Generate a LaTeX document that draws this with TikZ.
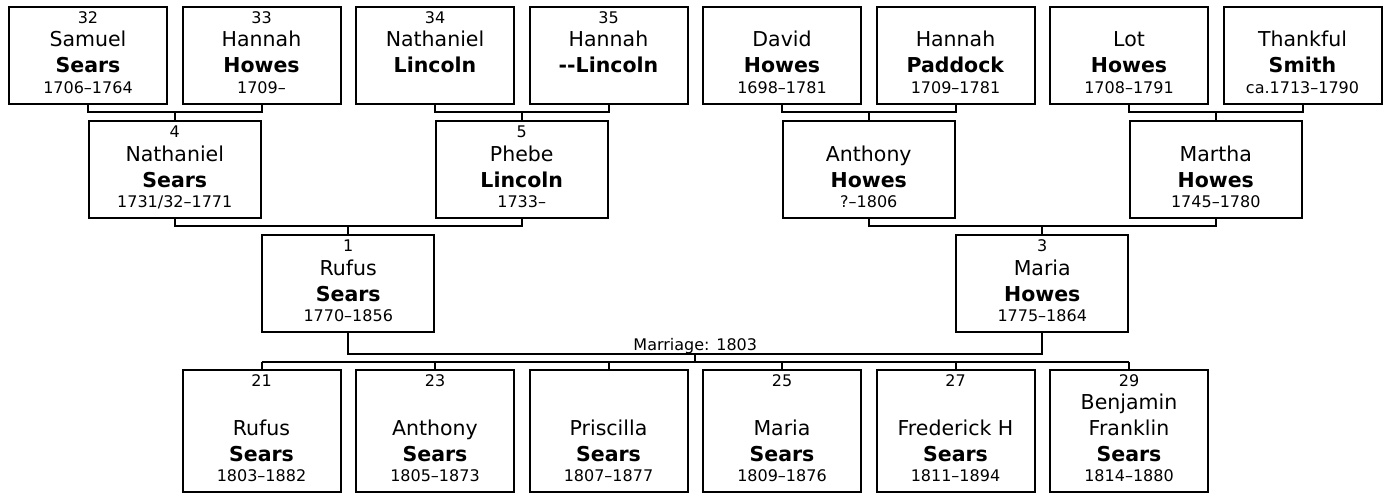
\documentclass[tikz,border=0pt]{standalone}
\usepackage{fontspec}
\setmainfont{DejaVu Sans}
\usetikzlibrary{positioning,calc}

\tikzset{
  person/.style={draw, line width=2pt, outer sep=0pt, inner sep=0pt,
    minimum width=158pt, minimum height=97pt},
  couple/.style={person, minimum width=172pt},
  kid/.style={person, minimum height=122pt},
  small/.style={anchor=base, inner sep=0pt, font=\fontsize{16}{19}\selectfont},
  big/.style={anchor=base, inner sep=0pt, font=\fontsize{20.5}{24}\selectfont},
  link/.style={line width=2pt}
}

% first name, last name and dates of a box
\newcommand{\who}[4]{%
  \node[big] (#1first) at ([yshift=57pt]#1.south) {#2};
  \node[big] (#1last) at ([yshift=31pt]#1.south) {\textbf{#3}};
  \node[small] (#1dates) at ([yshift=10.5pt]#1.south) {#4};
}

\begin{document}
\begin{tikzpicture}[x=1pt, y=-1pt]
\useasboundingbox (0,0) rectangle (1386,495);

% great-grandparents
\node[person] (p32) at (88,55.5) {};
\node[person] (p33) at (261.5,55.5) {};
\node[person] (p34) at (435,55.5) {};
\node[person] (p35) at (608.5,55.5) {};
\node[person] (david) at (782,55.5) {};
\node[person] (paddock) at (955.5,55.5) {};
\node[person] (lot) at (1129,55.5) {};
\node[person] (smith) at (1302.5,55.5) {};

\who{p32}{Samuel}{Sears}{1706--1764}
\who{p33}{Hannah}{Howes}{1709--}
\who{p34}{Nathaniel}{Lincoln}{}
\who{p35}{Hannah}{{-}{-}Lincoln}{}
\who{david}{David}{Howes}{1698--1781}
\who{paddock}{Hannah}{Paddock}{1709--1781}
\who{lot}{Lot}{Howes}{1708--1791}
\who{smith}{Thankful}{Smith}{ca.1713--1790}

% grandparents
\node[couple] (p4) at (174.75,169.5) {};
\node[couple] (p5) at (521.75,169.5) {};
\node[couple] (anthony) at (868.75,169.5) {};
\node[couple] (martha) at (1215.75,169.5) {};

\who{p4}{Nathaniel}{Sears}{1731/32--1771}
\who{p5}{Phebe}{Lincoln}{1733--}
\who{anthony}{Anthony}{Howes}{?--1806}
\who{martha}{Martha}{Howes}{1745--1780}

% parents
\node[couple] (p1) at (348.25,283.5) {};
\node[couple] (p3) at (1042.25,283.5) {};

\who{p1}{Rufus}{Sears}{1770--1856}
\who{p3}{Maria}{Howes}{1775--1864}

% children
\node[kid] (c21) at (261.5,431) {};
\node[kid] (c23) at (435,431) {};
\node[kid] (priscilla) at (608.5,431) {};
\node[kid] (c25) at (782,431) {};
\node[kid] (c27) at (955.5,431) {};
\node[kid] (c29) at (1129,431) {};

\who{c21}{Rufus}{Sears}{1803--1882}
\who{c23}{Anthony}{Sears}{1805--1873}
\who{priscilla}{Priscilla}{Sears}{1807--1877}
\who{c25}{Maria}{Sears}{1809--1876}
\who{c27}{Frederick H}{Sears}{1811--1894}
\who{c29}{Franklin}{Sears}{1814--1880}
\node[big] (c29extra) at ([yshift=83pt]c29.south) {Benjamin};

% numbers
\foreach \b/\n in {p32/32, p33/33, p34/34, p35/35, p4/4, p5/5, p1/1, p3/3,
                   c21/21, c23/23, c25/25, c27/27, c29/29}
  \node[small] (\b num) at ([yshift=-16.5pt]\b.north) {\n};

% lines between generations
\foreach \a/\b/\c in {p32/p33/p4, p34/p35/p5, david/paddock/anthony, lot/smith/martha,
                      p4/p5/p1, anthony/martha/p3} {
  \draw[link] (\a.south) -- ++(0,8) -| (\b.south);
  \draw[link] (\c.north) -- ++(0,-9);
}

% marriage
\draw[link] (p1.south) -- ++(0,22) -| (p3.south);
\coordinate (wed) at ($(p1.south)!0.5!(p3.south)+(0,22)$);
\node[small] (wedding) at ([yshift=4pt]wed) {Marriage: 1803};
\draw[link] (wed) -- ++(0,7.5);
\draw[link] ([yshift=8.5pt]c21.north) -- ([yshift=8.5pt]c29.north);
\foreach \c in {c21, c23, priscilla, c25, c27, c29}
  \draw[link] (\c.north) -- ++(0,-8.5);

\end{tikzpicture}
\end{document}
